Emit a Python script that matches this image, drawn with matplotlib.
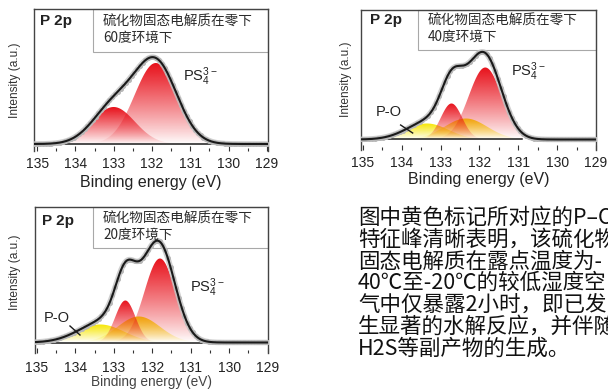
import numpy as np
import matplotlib
matplotlib.use('Agg')
import matplotlib.pyplot as plt
from matplotlib.patches import Rectangle
from matplotlib.colors import to_rgb

plt.rcParams['font.family'] = ['Liberation Sans', 'DejaVu Sans']
plt.rcParams['mathtext.fontset'] = 'custom'
plt.rcParams['mathtext.rm'] = 'Liberation Sans'
plt.rcParams['mathtext.it'] = 'Liberation Sans:italic'
plt.rcParams['mathtext.bf'] = 'Liberation Sans:bold'
CJK = ['Noto Sans CJK SC', 'DejaVu Sans']

W, H = 608, 391

# 拟合峰参数: 中心(eV), 峰高, 半高宽(eV), 归属
# 零下60度
m60_center = [133.0, 131.9]
m60_height = [37, 81]
m60_fwhm = [1.3, 1.3]
m60_kind = ['PS4', 'PS4']
# 零下40度
m40_center = [133.35, 132.35, 132.72, 131.85]
m40_height = [16, 21, 36, 72]
m40_fwhm = [1.3, 1.3, 0.65, 1.0]
m40_kind = ['PO', 'PO', 'PS4', 'PS4']
# 零下20度
m20_center = [133.35, 132.35, 132.70, 131.80]
m20_height = [18, 26, 42, 84]
m20_fwhm = [1.45, 1.3, 0.62, 0.95]
m20_kind = ['PO', 'PO', 'PS4', 'PS4']

xticks = [135, 134, 133, 132, 131, 130, 129]
xticklabels = ['135', '134', '133', '132', '131', '130', '129']

notes = ['硫化物固态电解质在零下\n60度环境下',
         '硫化物固态电解质在零下\n40度环境下',
         '硫化物固态电解质在零下\n20度环境下']

para = ['图中黄色标记所对应的P–O',
        '特征峰清晰表明，该硫化物',
        '固态电解质在露点温度为-',
        '40℃至-20℃的较低湿度空',
        '气中仅暴露2小时，即已发',
        '生显著的水解反应，并伴随',
        'H2S等副产物的生成。']

fill_colors = {'PS4': '#e8101a', 'PO': '#f7e600'}

fig = plt.figure(figsize=(W / 100, H / 100), dpi=100)


def fx(px):
    return px / W


def fy(py):
    return 1 - py / H


def peak(x, c, h, w):
    return h * np.exp(-4 * np.log(2) * (x - c) ** 2 / w ** 2)


def grad_fill(ax, x, y, color, z):
    poly = ax.fill_between(x, 0, y, facecolor='none', edgecolor='none')
    rgba = np.zeros((256, 1, 4))
    rgba[..., :3] = to_rgb(color)
    rgba[:, 0, 3] = np.linspace(0, 1, 256) ** 0.9
    im = ax.imshow(rgba, extent=[x.min(), x.max(), 0, y.max()], origin='lower',
                   aspect='auto', zorder=z, interpolation='bilinear')
    im.set_clip_path(poly.get_paths()[0], transform=ax.transData)


def panel(box, centers, heights, fwhms, kinds, note, xlim, ylim, base_end,
          note_box, p2p, ps4, po=None, xl_y=182, yl=(15, 80),
          pad=4.3, xl_size=11.5, lab_color='#222'):
    l, t, r, b = box
    ax = fig.add_axes([fx(l), fy(b), fx(r) - fx(l), fy(t) - fy(b)])
    x = np.linspace(135.2, 128.8, 800)
    comps = [peak(x, c, h, w) for c, h, w in zip(centers, heights, fwhms)]
    env = np.sum(comps, axis=0)
    for z, (comp, k) in enumerate(zip(comps, kinds)):
        m = comp > 0.3
        grad_fill(ax, x[m], comp[m], fill_colors[k], 2 + z)
    ax.plot([135.2, base_end], [0, 0], color='#1a1a1a', lw=1.1, zorder=6)
    ax.plot(x, env, color='#c4c4c4', lw=4, alpha=0.8, zorder=7)
    ax.plot(x[::9], env[::9], ls='none', marker='o', ms=2.6, color='#b8b8b8', zorder=7)
    ax.plot(x, env, color='#1a1a1a', lw=1.5, zorder=8)

    ax.set_xlim(*xlim)
    ax.set_ylim(*ylim)
    ax.set_yticks([])
    ax.set_xticks(xticks)
    ax.set_xticklabels(xticklabels)
    ax.set_xticks(np.arange(129.5, 135, 1.0), minor=True)
    ax.tick_params(axis='x', which='major', direction='in', length=3.5, width=0.8,
                   labelsize=10, pad=pad, colors='#333', labelcolor='#222')
    ax.tick_params(axis='x', which='minor', direction='in', length=2, width=0.8, colors='#333')
    for s in ['left', 'right', 'top']:
        ax.spines[s].set_color('#444')
        ax.spines[s].set_linewidth(1.0)
    ax.spines['bottom'].set_visible(False)

    h_ax = b - t
    w_ax = r - l
    ax.set_xlabel('Binding energy (eV)', fontsize=xl_size, color=lab_color, va='center')
    ax.xaxis.set_label_coords(0.5, (b - xl_y) / h_ax)
    ax.set_ylabel('Intensity (a.u.)', fontsize=8.6, color='#333', va='center')
    ax.yaxis.set_label_coords((yl[0] - l) / w_ax, (b - yl[1]) / h_ax)

    # 说明框放在曲线下层, 曲线可以压在框上
    bl, bt, br, bb = note_box
    ax.add_patch(Rectangle((fx(bl), fy(bb)), fx(br) - fx(bl), fy(bt) - fy(bb),
                           transform=fig.transFigure, facecolor='white',
                           edgecolor='#a8a8a8', lw=0.8, zorder=1, clip_on=False))
    fig.text(fx(bl + 10), fy((bt + bb) / 2 - 1), note, family=CJK, fontsize=9.8,
             color='#2a2a2a', va='center', ha='left', linespacing=1.2, zorder=6)
    fig.text(fx(p2p[0]), fy(p2p[1]), 'P 2p', fontsize=11, fontweight='bold',
             color='#222', va='center', ha='left', zorder=6)
    fig.text(fx(ps4[0]), fy(ps4[1]), r'PS$_4^{3-}$', fontsize=10.5, color='#222',
             va='center', ha='left', zorder=6)
    if po is not None:
        (tx, ty), (x0, y0), (x1, y1) = po
        ax.text(tx, ty, 'P-O', fontsize=10.5, color='#222', ha='center', va='center', zorder=9)
        ax.plot([x0, x1], [y0, y1], color='#1a1a1a', lw=1.0, zorder=9)
    return ax


panel((34, 9, 268, 151), m60_center, m60_height, m60_fwhm, m60_kind, notes[0],
      xlim=(135.08, 128.97), ylim=(-7, 135), base_end=128.8,
      note_box=(93, 9, 268, 52), p2p=(40, 21), ps4=(183, 77))

panel((361, 9.5, 596, 150), m40_center, m40_height, m40_fwhm, m40_kind, notes[1],
      xlim=(135.05, 129.07), ylim=(-10.5, 130), base_end=130.9,
      note_box=(418, 10, 596, 50), p2p=(370, 20), ps4=(511, 72),
      po=((134.34, 27.5), (134.03, 14.5), (133.72, 6.5)),
      xl_y=180, yl=(346, 79))

panel((35, 207, 268, 353), m20_center, m20_height, m20_fwhm, m20_kind, notes[2],
      xlim=(135.05, 128.99), ylim=(-10.5, 135.5), base_end=130.7,
      note_box=(93, 207, 268, 248), p2p=(41.5, 221.5), ps4=(190, 287.5),
      po=((134.49, 24.5), (134.14, 16.5), (133.88, 7.5)),
      xl_y=382, yl=(15, 272.5), pad=5.8, xl_size=9.8, lab_color='#444')

for i, line in enumerate(para):
    fig.text(fx(358), fy(217.7 + 21.8 * i), line, family=CJK, fontsize=15.5,
             color='#111', ha='left', va='center')

fig.savefig('out.png', dpi=100, facecolor='white')
